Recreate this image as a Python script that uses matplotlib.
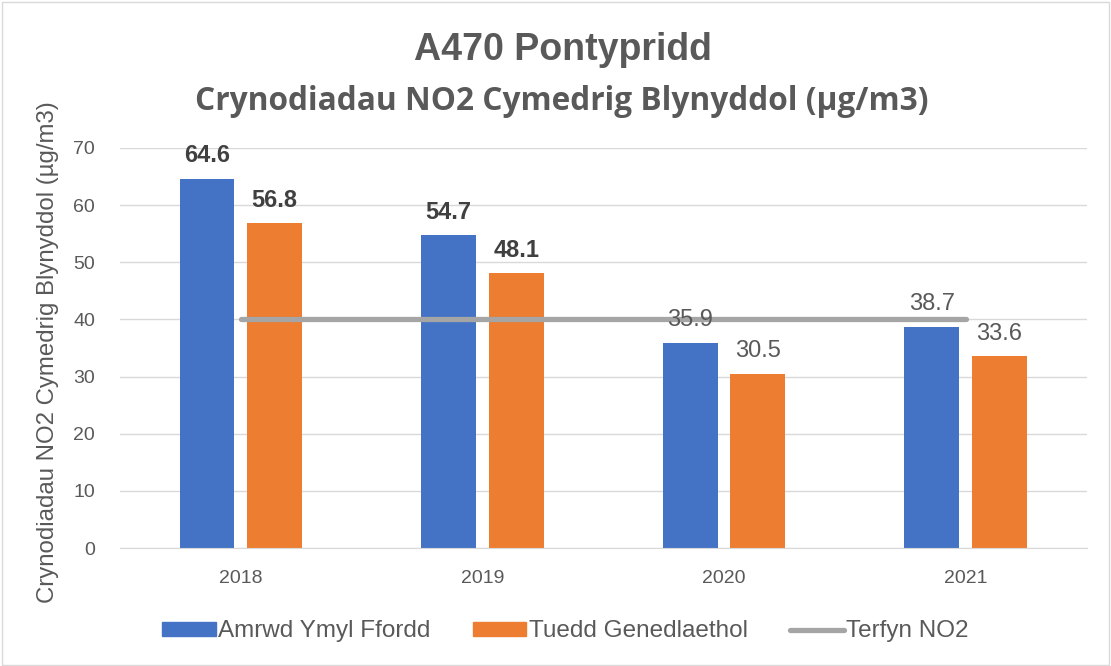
import numpy as np
import matplotlib.pyplot as plt
from matplotlib.patches import Rectangle, Patch
from matplotlib.lines import Line2D

# --- data ---
years = ['2018', '2019', '2020', '2021']
roadside = [64.6, 54.7, 35.9, 38.7]
national = [56.8, 48.1, 30.5, 33.6]
limit = [40, 40, 40, 40]
bold_labels = [True, True, False, False]

blue = '#4472C4'
orange = '#ED7D31'
grey = '#A5A5A5'
text_col = '#595959'

plt.rcParams['font.family'] = ['Liberation Sans', 'DejaVu Sans']

fig = plt.figure(figsize=(11.11, 6.66), dpi=100)
ax = fig.add_axes([0.108, 0.177, 0.870, 0.601])

x = np.arange(len(years))
width = 0.227
off = 0.14

ax.bar(x - off, roadside, width, color=blue, zorder=2)
ax.bar(x + off, national, width, color=orange, zorder=2)
ax.plot(x, limit, color=grey, linewidth=3.8, solid_capstyle='round', zorder=3)

# value labels
for i in range(len(years)):
    w = 'bold' if bold_labels[i] else 'normal'
    c = '#404040' if bold_labels[i] else text_col
    ax.text(x[i] - off, roadside[i] + 2.0, f'{roadside[i]:.1f}', ha='center', va='bottom',
            fontsize=17, fontweight=w, color=c, zorder=4, clip_on=False)
    ax.text(x[i] + off, national[i] + 2.0, f'{national[i]:.1f}', ha='center', va='bottom',
            fontsize=17, fontweight=w, color=c, zorder=4, clip_on=False)

ax.set_xlim(-0.5, 3.5)
ax.set_ylim(0, 70)
ax.set_yticks(range(0, 71, 10))
ax.set_xticks(x)
ax.set_xticklabels(years)
ax.tick_params(length=0, labelsize=14, colors=text_col)
ax.tick_params(axis='y', pad=18)
ax.tick_params(axis='x', pad=16)
ax.grid(axis='y', color='#D9D9D9', linewidth=1, zorder=0)
for s in ['top', 'right', 'left']:
    ax.spines[s].set_visible(False)
ax.spines['bottom'].set_color('#D9D9D9')

fig.text(0.043, 0.472, 'Crynodiadau NO2 Cymedrig Blynyddol (µg/m3)', rotation=90,
         ha='center', va='center', fontsize=17.3, color=text_col)

fig.text(0.507, 0.925, 'A470 Pontypridd', ha='center', va='center',
         fontsize=27, fontweight='bold', color=text_col)
fig.text(0.506, 0.848, 'Crynodiadau NO2 Cymedrig Blynyddol (µg/m3)', ha='center', va='center',
         fontsize=22.8, fontweight='bold', color=text_col, family=['Open Sans', 'DejaVu Sans'])

handles = [Patch(color=blue), Patch(color=orange),
           Line2D([0], [0], color=grey, linewidth=3.8, solid_capstyle='round')]
labels = ['Amrwd Ymyl Ffordd', 'Tuedd Genedlaethol', 'Terfyn NO2']
fig.legend(handles, labels, loc='center', bbox_to_anchor=(0.509, 0.052), ncol=3,
           frameon=False, handlelength=2.2, handleheight=0.5, handletextpad=0.1,
           columnspacing=1.75, labelcolor=text_col,
           prop={'family': ['Liberation Sans', 'DejaVu Sans'], 'size': 17.5})

fig.patches.append(Rectangle((0.002, 0.002), 0.996, 0.995, transform=fig.transFigure,
                             fill=False, edgecolor='#D9D9D9', linewidth=1))

fig.savefig('out.png', dpi=100)
